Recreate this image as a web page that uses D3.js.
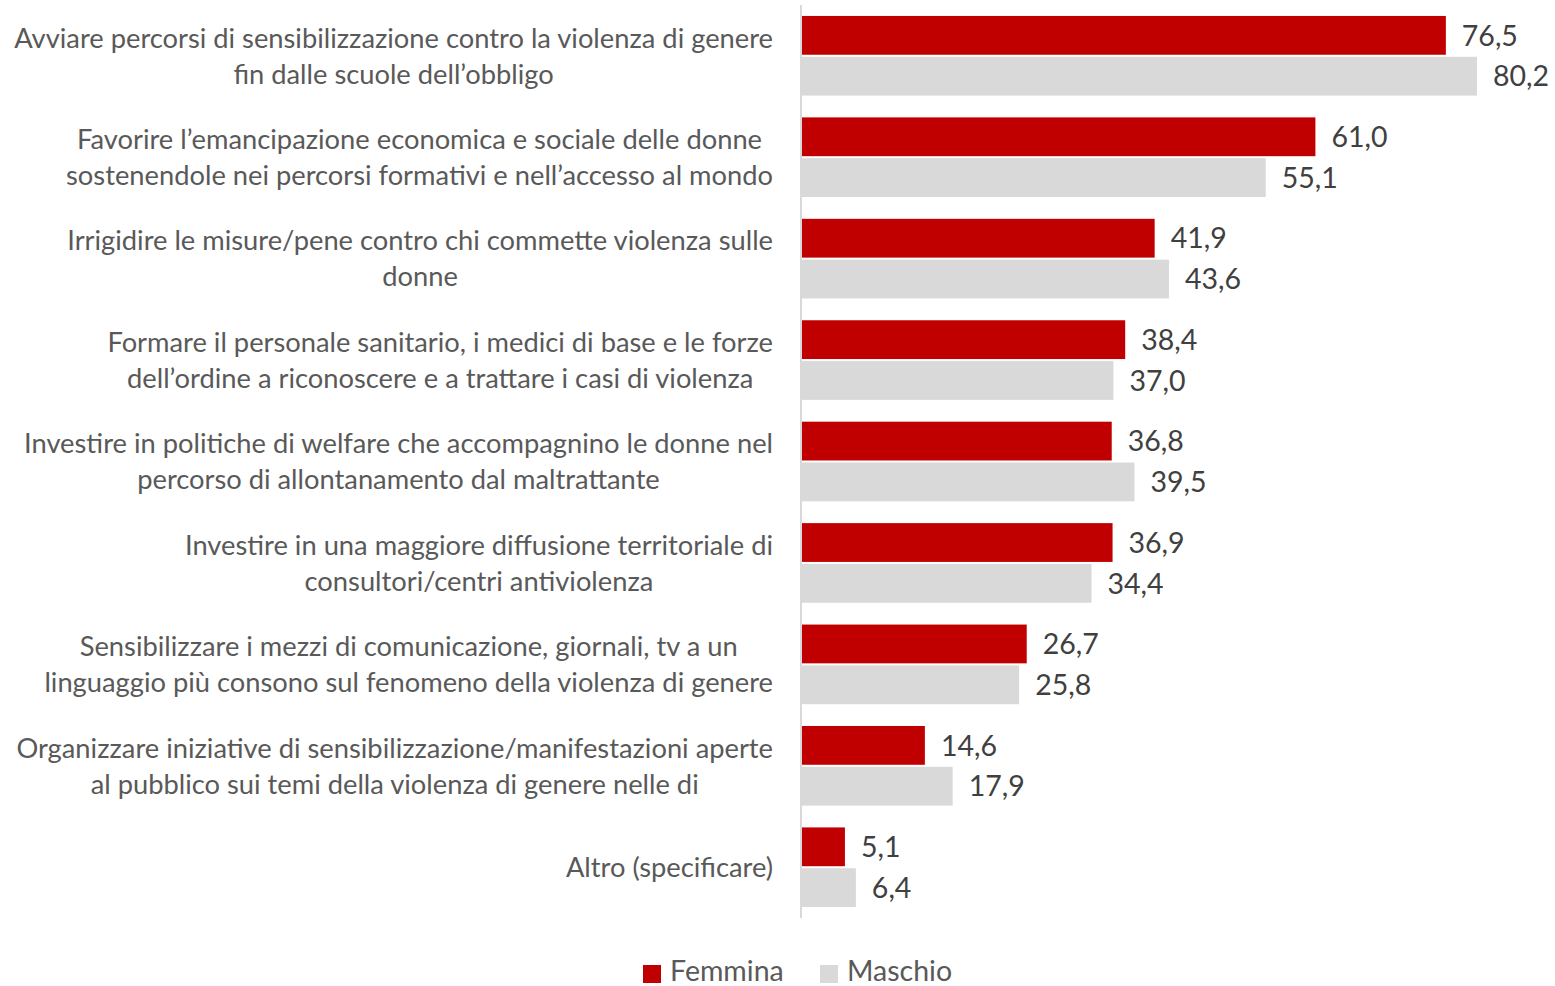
<!DOCTYPE html>
<html>
<head>
<meta charset="utf-8">
<script src="https://cdn.jsdelivr.net/npm/d3@7"></script>
<style>
  body { margin: 0; background: #fff; }
  svg text { font-family: Lato, "Open Sans", sans-serif; }
</style>
</head>
<body>
<script>
const WIDTH = 1555;
const HEIGHT = 986;
const FONT = 27.3;
const VAL_FONT = 28.5;

// data
const CATEGORIES = [
  ["Avviare percorsi di sensibilizzazione contro la violenza di genere", "fin dalle scuole dell\u2019obbligo"],
  ["Favorire l\u2019emancipazione economica e sociale delle donne", "sostenendole nei percorsi formativi e nell\u2019accesso al mondo"],
  ["Irrigidire le misure/pene contro chi commette violenza sulle", "donne"],
  ["Formare il personale sanitario, i medici di base e le forze", "dell\u2019ordine a riconoscere e a trattare i casi di violenza"],
  ["Investire in politiche di welfare che accompagnino le donne nel", "percorso di allontanamento dal maltrattante"],
  ["Investire in una maggiore diffusione territoriale di", "consultori/centri antiviolenza"],
  ["Sensibilizzare i mezzi di comunicazione, giornali, tv a un", "linguaggio pi\u00f9 consono sul fenomeno della violenza di genere"],
  ["Organizzare iniziative di sensibilizzazione/manifestazioni aperte", "al pubblico sui temi della violenza di genere nelle di"],
  ["Altro (specificare)"]
];
const FEMMINA = [76.5, 61.0, 41.9, 38.4, 36.8, 36.9, 26.7, 14.6, 5.1];
const MASCHIO = [80.2, 55.1, 43.6, 37.0, 39.5, 34.4, 25.8, 17.9, 6.4];
const SERIES = ["Femmina", "Maschio"];
const COLORS = ["#c00000", "#d9d9d9"];

const svg = d3.select("body").append("svg")
  .attr("width", WIDTH)
  .attr("height", HEIGHT);

const x0 = 802;
const xScale = d3.scaleLinear().domain([0, 80.2]).range([x0, 1477]);
const yScale = d3.scaleBand().domain(d3.range(CATEGORIES.length)).range([5, 918]).paddingInner(0.215).paddingOuter(0.108);
const inner = d3.scaleBand().domain(SERIES).range([0, yScale.bandwidth()]).paddingInner(0.05);

const fmt = v => v.toFixed(1).replace(".", ",");

// bars
const rows = CATEGORIES.map((c, i) => ({i, vals: [FEMMINA[i], MASCHIO[i]]}));
const groups = svg.selectAll("g.row").data(rows).enter().append("g")
  .attr("class", "row")
  .attr("transform", d => `translate(0,${yScale(d.i)})`);

groups.selectAll("rect").data(d => d.vals.map((v, k) => ({v, s: SERIES[k], k}))).enter().append("rect")
  .attr("x", x0)
  .attr("y", d => inner(d.s))
  .attr("width", d => xScale(d.v) - x0)
  .attr("height", inner.bandwidth())
  .attr("fill", d => COLORS[d.k]);

groups.selectAll("text.val").data(d => d.vals.map((v, k) => ({v, s: SERIES[k]}))).enter().append("text")
  .attr("class", "val")
  .attr("x", d => xScale(d.v) + 16)
  .attr("y", d => inner(d.s) + inner.bandwidth() / 2)
  .attr("dy", "0.36em")
  .attr("font-size", VAL_FONT)
  .attr("fill", "#404040")
  .text(d => fmt(d.v));

// axis line
svg.append("line")
  .attr("x1", 801).attr("x2", 801)
  .attr("y1", 5).attr("y2", 918)
  .attr("stroke", "#d9d9d9")
  .attr("stroke-width", 2);

// category labels (centered lines, block right aligned)
const lineH = 36;
CATEGORIES.forEach((lines, i) => {
  const cy = yScale(i) + yScale.bandwidth() / 2;
  const g = svg.append("g");
  const texts = lines.map((l, j) => g.append("text")
    .attr("y", cy + (j - (lines.length - 1) / 2) * lineH)
    .attr("dy", "0.36em")
    .attr("font-size", FONT)
    .attr("fill", "#595959")
    .attr("text-anchor", "middle")
    .text(l));
  const w = d3.max(texts, t => t.node().getComputedTextLength());
  texts.forEach(t => t.attr("x", 773 - w / 2));
});

// legend
const legend = svg.append("g").attr("transform", "translate(643,971)");
const lx = [0, 177];
SERIES.forEach((s, k) => {
  legend.append("rect").attr("x", lx[k]).attr("y", -6).attr("width", 18).attr("height", 18).attr("fill", COLORS[k]);
  legend.append("text").attr("x", lx[k] + 27).attr("y", 0).attr("dy", "0.36em")
    .attr("font-size", 28.5).attr("fill", "#595959").text(s);
});
</script>
</body>
</html>
